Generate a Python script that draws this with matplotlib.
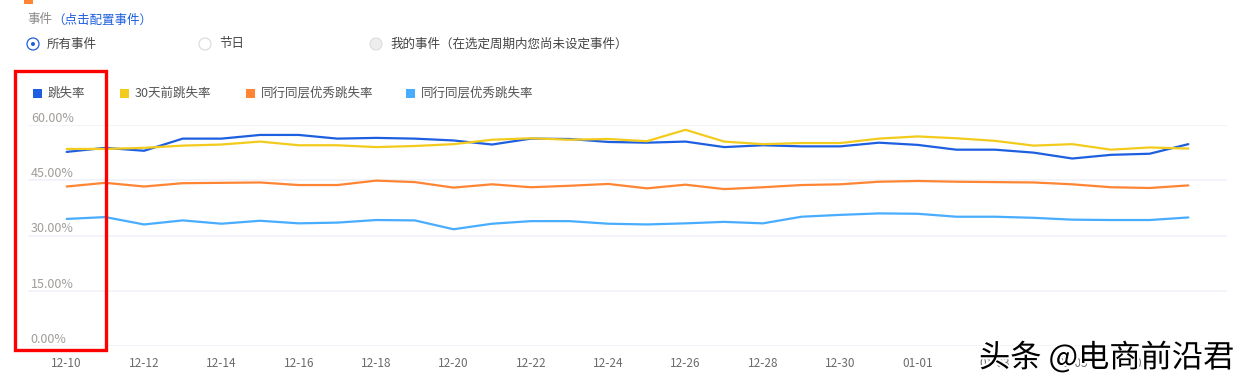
import matplotlib
matplotlib.use("Agg")
import matplotlib.pyplot as plt
import matplotlib.patheffects as pe
from matplotlib.patches import Rectangle, Circle

plt.rcParams['font.family'] = ['Noto Sans CJK SC', 'DejaVu Sans']

# dates 12-10 .. 01-08
dates = ["12-10", "12-11", "12-12", "12-13", "12-14", "12-15", "12-16", "12-17",
         "12-18", "12-19", "12-20", "12-21", "12-22", "12-23", "12-24", "12-25",
         "12-26", "12-27", "12-28", "12-29", "12-30", "12-31", "01-01", "01-02",
         "01-03", "01-04", "01-05", "01-06", "01-07", "01-08"]

bounce = [52.7, 53.8, 53.0, 56.3, 56.3, 57.3, 57.3, 56.3, 56.5, 56.3,
          55.8, 54.7, 56.3, 56.2, 55.4, 55.2, 55.5, 54.0, 54.5, 54.2,
          54.2, 55.2, 54.6, 53.3, 53.3, 52.5, 50.9, 51.9, 52.2, 54.8]
bounce_30d = [53.5, 53.5, 53.8, 54.4, 54.7, 55.5, 54.5, 54.5, 54.0, 54.3,
              54.8, 56.0, 56.4, 56.0, 56.2, 55.6, 58.7, 55.5, 54.8, 55.1,
              55.1, 56.3, 56.9, 56.4, 55.7, 54.4, 54.8, 53.3, 53.9, 53.6]
peer_a = [43.3, 44.3, 43.3, 44.2, 44.3, 44.4, 43.7, 43.7, 44.9, 44.5,
          43.0, 43.9, 43.1, 43.5, 44.0, 42.8, 43.8, 42.6, 43.1, 43.7,
          43.9, 44.6, 44.8, 44.6, 44.5, 44.4, 43.9, 43.1, 42.9, 43.6]
peer_b = [34.5, 35.0, 33.0, 34.1, 33.2, 34.0, 33.3, 33.5, 34.2, 34.1,
          31.7, 33.2, 33.9, 33.9, 33.2, 33.0, 33.3, 33.7, 33.3, 35.1,
          35.6, 36.0, 35.9, 35.1, 35.1, 34.8, 34.3, 34.2, 34.2, 34.9]

series_names = ["跳失率", "30天前跳失率", "同行同层优秀跳失率", "同行同层优秀跳失率"]
colors = ["#1d5fe0", "#f2cb1d", "#ff8534", "#48adff"]
yticks = [0, 15, 30, 45, 60]

W, H = 1251, 389
fig = plt.figure(figsize=(W / 100, H / 100), dpi=100)


def px(x, y):
    return x / W, 1 - y / H


ax = fig.add_axes([28 / W, 43 / H, 1199 / W, 221 / H])
x = list(range(len(dates)))
for vals, c in zip([bounce, bounce_30d, peer_a, peer_b], colors):
    ax.plot(x, vals, color=c, lw=1.6, solid_joinstyle="round", solid_capstyle="round", zorder=3)

ax.set_xlim(-1, len(dates))
ax.set_ylim(0, 60)
ax.set_yticks(yticks)
ax.set_yticklabels([f"{v:.2f}%" for v in yticks])
ax.grid(axis="y", color="#f1f2f8", lw=1.2)
ax.set_axisbelow(True)
for s in ax.spines.values():
    s.set_visible(False)
ax.tick_params(axis="y", length=0, pad=-2, labelsize=9, labelcolor="#a09c9a")
for lab in ax.get_yticklabels():
    lab.set_horizontalalignment("left")
    lab.set_verticalalignment("bottom")
ax.set_xticks(x[::2])
ax.set_xticklabels(dates[::2])
ax.tick_params(axis="x", length=0, pad=8, labelsize=8.5, labelcolor="#6b6b6b")

# header
fig.patches.append(Rectangle(px(24, 4), 9 / W, 4 / H, transform=fig.transFigure,
                             color="#ff8534", lw=0))
fig.text(*px(27, 20), "事件", fontsize=9, color="#8a8a8a", va="center")
fig.text(*px(52, 20), "（点击配置事件）", fontsize=9, color="#1d5fe0", va="center")

fig.patches.append(Circle((33, H - 44), 6, transform=None, fc="white", ec="#1d5fe0", lw=0.9))
fig.patches.append(Circle((33, H - 44), 2, transform=None, fc="#1d5fe0", lw=0))
fig.text(*px(47, 44), "所有事件", fontsize=9, color="#444444", va="center")
fig.patches.append(Circle((205, H - 44), 6, transform=None, fc="white", ec="#dddddd", lw=0.9))
fig.text(*px(219, 44), "节日", fontsize=9, color="#444444", va="center")
fig.patches.append(Circle((376, H - 44), 6, transform=None, fc="#eeeeee", ec="#e0e0e0", lw=0.9))
fig.text(*px(390, 44), "我的事件（在选定周期内您尚未设定事件）", fontsize=9, color="#444444", va="center")

# legend
leg_x = [33, 120, 246, 406]
for lx, name, c in zip(leg_x, series_names, colors):
    fig.patches.append(Rectangle(px(lx, 98), 9 / W, 9 / H, transform=fig.transFigure, color=c, lw=0))
    fig.text(*px(lx + 15, 93), name, fontsize=9, color="#555555", va="center")

# red highlight box
fig.patches.append(Rectangle(px(15, 350), 91 / W, 279 / H, transform=fig.transFigure,
                             fill=False, ec="#ff0000", lw=2.4, zorder=5))

# watermark over the last tick labels
fig.text(*px(979, 358), "头条 @电商前沿君", fontsize=22.5, color="black", va="center",
         path_effects=[pe.withStroke(linewidth=3, foreground="white")], zorder=10)

fig.savefig("out.png", dpi=100, facecolor="white")
